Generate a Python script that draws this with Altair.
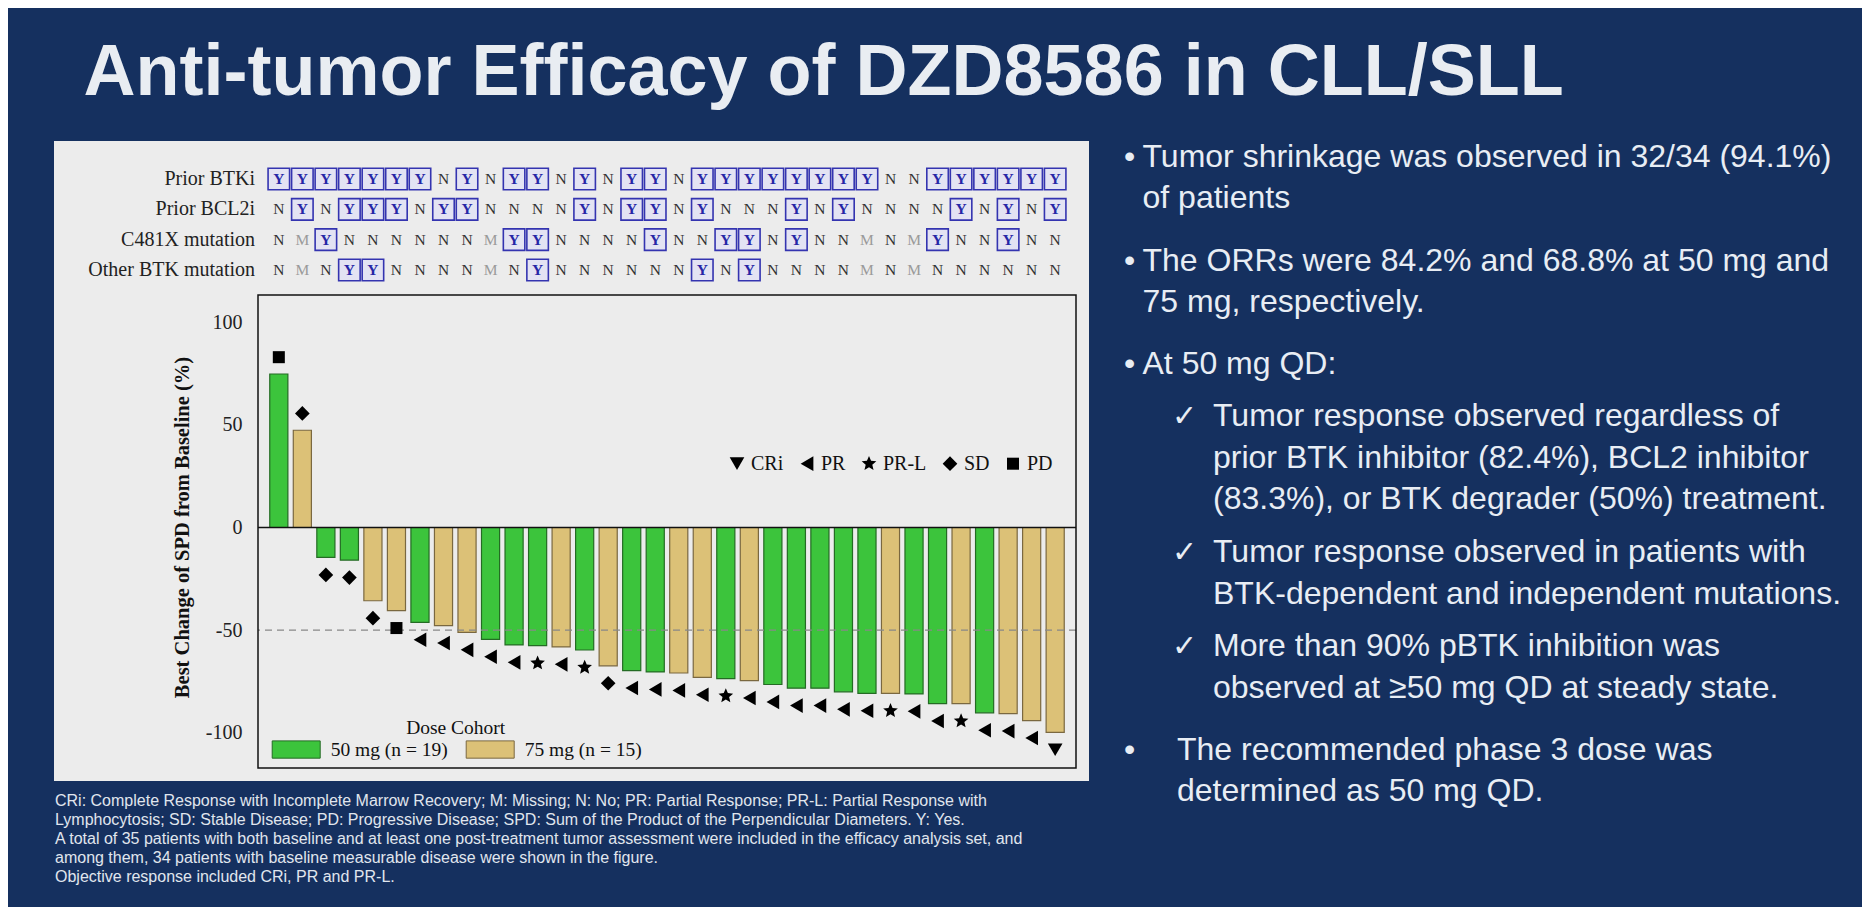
import altair as alt
import pandas as pd

# ---------------- data ----------------
patients = list(range(1, 35))
best_change = [74.8, 47.4, -14.6, -15.9, -35.7, -40.5, -46.2, -47.8, -51.1, -54.5,
               -57.2, -57.6, -58.2, -59.7, -67.4, -69.7, -70.4, -70.9, -73.0, -73.6,
               -74.6, -76.5, -78.3, -78.3, -80.1, -80.8, -80.8, -81.1, -85.8, -85.8,
               -90.3, -90.7, -94.1, -99.8]
dose_mg = ["50", "75", "50", "50", "75", "75", "50", "75", "75", "50",
           "50", "50", "75", "50", "75", "50", "50", "75", "75", "50",
           "75", "50", "50", "50", "50", "50", "75", "50", "50", "75",
           "50", "75", "75", "75"]
response = ["PD", "SD", "SD", "SD", "SD", "PD", "PR", "PR", "PR", "PR",
            "PR", "PR-L", "PR", "PR-L", "SD", "PR", "PR", "PR", "PR", "PR-L",
            "PR", "PR", "PR", "PR", "PR", "PR", "PR-L", "PR", "PR", "PR-L",
            "PR", "PR", "PR", "CRi"]
prior_btki = list("YYYYYYYNYNYYNYNYYNYYYYYYYYNNYYYYYY")
prior_bcl2i = list("NYNYYYNYYNNNNYNYYNYNNNYNYNNNNYNYNY")
c481x = list("NMYNNNNNNMYYNNNNYNNYYNYNNMNMYNNYNN")
other_btk = list("NMNYYNNNNMNYNNNNNNYNYNNNNMNMNNNNNN")
row_names = ["Prior BTKi", "Prior BCL2i", "C481X mutation", "Other BTK mutation"]
dose_labels = {"50": "50 mg (n = 19)", "75": "75 mg (n = 15)"}
response_order = ["CRi", "PR", "PR-L", "SD", "PD"]
y_ticks = [100, 50, 0, -50, -100]

title_text = "Anti-tumor Efficacy of DZD8586 in CLL/SLL"
bullet1 = ["Tumor shrinkage was observed in 32/34 (94.1%)", "of patients"]
bullet2 = ["The ORRs were 84.2% and 68.8% at 50 mg and", "75 mg, respectively."]
bullet3 = ["At 50 mg QD:"]
check1 = ["Tumor response observed regardless of",
          "prior BTK inhibitor (82.4%), BCL2 inhibitor",
          "(83.3%), or BTK degrader (50%) treatment."]
check2 = ["Tumor response observed in patients with",
          "BTK-dependent and independent mutations."]
check3 = ["More than 90% pBTK inhibition was",
          "observed at \u226550 mg QD at steady state."]
bullet4 = ["The recommended phase 3 dose was", "determined as 50 mg QD."]
footnote = [
    "CRi: Complete Response with Incomplete Marrow Recovery; M: Missing; N: No; PR: Partial Response; PR-L: Partial Response with",
    "Lymphocytosis; SD: Stable Disease; PD: Progressive Disease; SPD: Sum of the Product of the Perpendicular Diameters. Y: Yes.",
    "A total of 35 patients with both baseline and at least one post-treatment tumor assessment were included in the efficacy analysis set, and",
    "among them, 34 patients with baseline measurable disease were shown in the figure.",
    "Objective response included CRi, PR and PR-L.",
]
legend_title = "Dose Cohort"

# ---------------- tables ----------------
df = pd.DataFrame({
    "idx": patients,
    "value": best_change,
    "dose": [dose_labels[d] for d in dose_mg],
    "resp": response,
})
hdr = pd.DataFrame([
    {"row": r, "idx": i + 1, "val": v}
    for r, vals in zip(row_names, [prior_btki, prior_bcl2i, c481x, other_btk])
    for i, v in enumerate(vals)
])
rows_df = pd.DataFrame({"row": row_names})

# ---------------- layout constants ----------------
W, H = 818, 473
OX, OY = 258, 295          # page position of plot origin
SERIF = "Liberation Serif"
SANS = "Liberation Sans"
NAVY = "#15305f"
TXT = "#e8edf4"
GREEN, TAN = "#3cc43c", "#dcc177"
GREEN_S, TAN_S = "#246b24", "#7a6840"
STAR = ("M0,-1.05L0.28,-0.39L1.0,-0.32L0.45,0.15L0.62,0.85L0,0.48"
        "L-0.62,0.85L-0.45,0.15L-1.0,-0.32L-0.28,-0.39Z")
SQUARE = "M-0.82,-0.82L0.82,-0.82L0.82,0.82L-0.82,0.82Z"
RECT = "M-1,-0.36L1,-0.36L1,0.36L-1,0.36Z"

X = alt.X("idx:O", scale=alt.Scale(paddingInner=0.23, paddingOuter=0.5), axis=None)
yscale = alt.Scale(domain=[-117.2, 113.3], nice=False, zero=False)
rowY = alt.Y("row:N", scale=alt.Scale(type="point", domain=row_names,
                                       range=[-116, -25], padding=0), axis=None)

# ---------------- header grid ----------------
boxes = alt.Chart(hdr).transform_filter("datum.val == 'Y'").mark_square(
    size=462, filled=True, fill="#e3e3f3", stroke="#3434b0", strokeWidth=1.6, opacity=1
).encode(x=X, y=rowY)
ytext = alt.Chart(hdr).transform_filter("datum.val == 'Y'").mark_text(
    font=SERIF, fontSize=15.5, fontWeight="bold", color="#2626a6", baseline="middle"
).encode(x=X, y=rowY, text="val:N")
nmtext = alt.Chart(hdr).transform_filter("datum.val != 'Y'").mark_text(
    font=SERIF, fontSize=15.5, baseline="middle"
).encode(x=X, y=rowY, text="val:N",
         color=alt.condition("datum.val == 'M'", alt.value("#9a9a9a"), alt.value("#333333")))
row_lab = alt.Chart(rows_df).mark_text(
    font=SERIF, fontSize=20, align="right", baseline="middle", color="#222222"
).encode(x=alt.value(255 - OX), y=rowY, text="row:N")
header = alt.layer(boxes, ytext, nmtext, row_lab)

# ---------------- waterfall ----------------
yaxis = alt.Axis(values=y_ticks, ticks=False, domain=False, grid=False, zindex=2,
                 labelExpr="'' + datum.value",
                 labelFont=SERIF, labelFontSize=20, labelColor="#222222", labelPadding=16,
                 title="Best Change of SPD from Baseline (%)", titleFont=SERIF,
                 titleFontSize=20.5, titleFontWeight="bold", titleColor="#111111",
                 titleX=182 - OX, titleY=527 - OY, titleAngle=270, titleBaseline="middle")
dose_legend = alt.Legend(orient="none", legendX=271.7 - OX, legendY=748.6 - OY - 24,
                         direction="horizontal", title=None, symbolType=RECT, zindex=2,
                         symbolSize=2304, symbolStrokeColor="#444444", symbolStrokeWidth=1,
                         labelFont=SERIF, labelFontSize=19.5, labelColor="#111111",
                         labelOffset=10, columnPadding=15, padding=0)
shape_legend = alt.Legend(orient="none", legendX=727 - OX, legendY=461 - OY - 7.3,
                          direction="horizontal", title=None, symbolSize=215, zindex=2,
                          symbolFillColor="black", symbolStrokeWidth=0,
                          labelFont=SERIF, labelFontSize=20, labelColor="#111111",
                          labelOffset=4, columnPadding=13, padding=0)

bars = alt.Chart(df).mark_bar(strokeWidth=1.2).encode(
    x=X,
    y=alt.Y("value:Q", scale=yscale, axis=yaxis),
    y2=alt.Y2Datum(0),
    fill=alt.Fill("dose:N", scale=alt.Scale(domain=list(dose_labels.values()), range=[GREEN, TAN]),
                  legend=dose_legend),
    stroke=alt.Stroke("dose:N", scale=alt.Scale(domain=list(dose_labels.values()),
                                               range=[GREEN_S, TAN_S]), legend=None),
)
dash = alt.Chart(alt.Data(values=[{}])).mark_rule(
    color="#888888", strokeDash=[7, 5], strokeWidth=1.2
).encode(y=alt.YDatum(-50))
zero = alt.Chart(alt.Data(values=[{}])).mark_rule(color="#111111", strokeWidth=1.6).encode(
    y=alt.YDatum(0))
markers = alt.Chart(df).transform_calculate(
    my="datum.value >= 0 ? datum.value + 8.2 : datum.value - 8.5"
).mark_point(filled=True, color="black", size=215, opacity=1).encode(
    x=X,
    y=alt.Y("my:Q", scale=yscale),
    shape=alt.Shape("resp:N", scale=alt.Scale(
        domain=response_order,
        range=["triangle-down", "triangle-left", STAR, "diamond", SQUARE]),
        legend=shape_legend),
)
waterfall = alt.layer(bars, dash, zero, markers)

# ---------------- frames & text ----------------
one = alt.Data(values=[{}])
panel = alt.Chart(one).mark_rect(color="#ececec").encode(
    x=alt.value(54 - OX), x2=alt.value(1089 - OX), y=alt.value(141 - OY), y2=alt.value(781 - OY))
frame = alt.Chart(one).mark_rect(fillOpacity=0, stroke="#111111", strokeWidth=1.5).encode(
    x=alt.value(0), x2=alt.value(W), y=alt.value(0), y2=alt.value(H))


def text_layer(lines, xp, yp, size, color=TXT, weight="normal", font=SANS, lh=None,
               align="left"):
    kw = {"lineHeight": lh} if lh else {}
    return alt.Chart(one).mark_text(
        align=align, baseline="alphabetic", font=font, fontSize=size,
        fontWeight=weight, color=color, **kw
    ).encode(x=alt.value(xp - OX), y=alt.value(yp - OY), text=alt.value(lines))


texts = [
    text_layer(title_text, 83.5, 95, 72, color="#e9edf2", weight="bold"),
    text_layer("\u2022", 1124, 167, 32), text_layer(bullet1, 1142.5, 167, 32, lh=40.6),
    text_layer("\u2022", 1124, 271, 32), text_layer(bullet2, 1142.5, 271, 32, lh=40.6),
    text_layer("\u2022", 1124, 373.6, 32), text_layer(bullet3, 1142.5, 373.6, 32),
    text_layer("\u2713", 1172, 426, 30), text_layer(check1, 1213, 426, 32, lh=41.7),
    text_layer("\u2713", 1172, 562, 30), text_layer(check2, 1213, 562, 32, lh=41.7),
    text_layer("\u2713", 1172, 656.2, 30), text_layer(check3, 1213, 656.2, 32, lh=41.7),
    text_layer("\u2022", 1124, 760, 32), text_layer(bullet4, 1177, 760, 32, lh=40.5),
    text_layer(footnote, 55, 805.5, 16, color="#e0e6ee", lh=19.1),
    text_layer(legend_title, 455.7, 733.5, 19.5, color="#111111", font=SERIF, align="center"),
]

chart = alt.layer(panel, header, waterfall, frame, *texts).resolve_scale(
    y="independent"
).properties(
    width=W, height=H,
    padding={"left": 250, "top": 287, "right": 786, "bottom": 139},
    autosize=alt.AutoSizeParams(type="none"),
).configure(background=NAVY).configure_view(stroke=None)

chart.save("out.html", embed_options={"renderer": "svg", "actions": False})
